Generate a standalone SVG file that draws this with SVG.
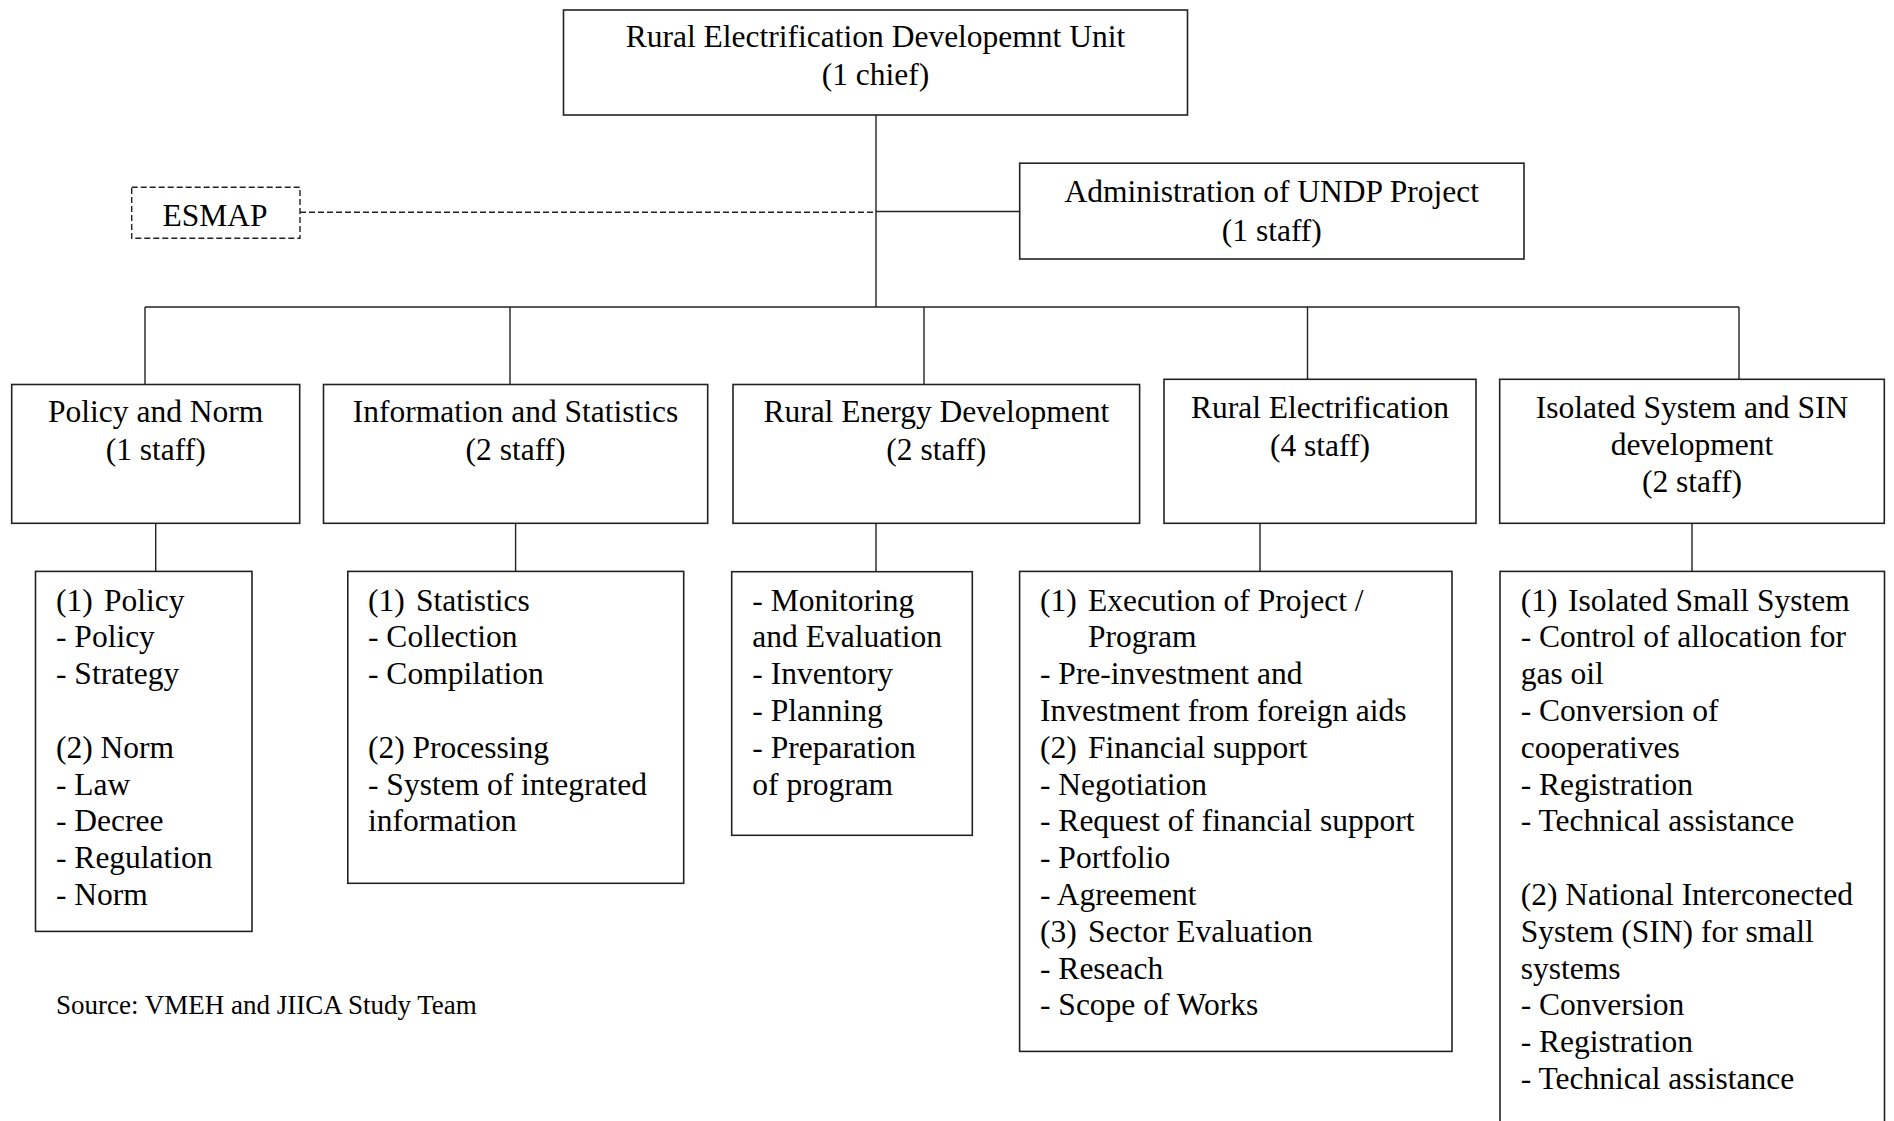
<svg xmlns="http://www.w3.org/2000/svg" width="1894" height="1121" viewBox="0 0 1894 1121">
<style>
.box{fill:#fff;stroke:#222;stroke-width:1.6}
.dbox{fill:#fff;stroke:#222;stroke-width:1.4;stroke-dasharray:6 3}
.ln{fill:none;stroke:#222;stroke-width:1.4}
.dln{fill:none;stroke:#222;stroke-width:1.4;stroke-dasharray:6 3}
text{font-family:"Liberation Serif","Times New Roman",serif;font-size:31.5px;fill:#000}
.c{text-anchor:middle}
.src{font-size:27px}
</style>
<rect width="1894" height="1121" fill="#fff"/>
<g id="connectors">
<line class="ln" x1="876" y1="115" x2="876" y2="307"/>
<line class="dln" x1="300" y1="212.3" x2="876" y2="212.3"/>
<line class="ln" x1="876" y1="211.5" x2="1020" y2="211.5"/>
<line class="ln" x1="145" y1="307" x2="1739" y2="307"/>
<line class="ln" x1="145" y1="307" x2="145" y2="384.5"/>
<line class="ln" x1="510" y1="307" x2="510" y2="384.5"/>
<line class="ln" x1="924" y1="307" x2="924" y2="384.5"/>
<line class="ln" x1="1307.5" y1="307" x2="1307.5" y2="379.5"/>
<line class="ln" x1="1739" y1="307" x2="1739" y2="384.5"/>
<line class="ln" x1="155.7" y1="523.3" x2="155.7" y2="571.4"/>
<line class="ln" x1="515.6" y1="523.3" x2="515.6" y2="571.4"/>
<line class="ln" x1="876" y1="523.3" x2="876" y2="571.7"/>
<line class="ln" x1="1260" y1="523.3" x2="1260" y2="571.4"/>
<line class="ln" x1="1692" y1="523.3" x2="1692" y2="571.4"/>
</g>
<g id="unit">
<rect class="box" x="563.5" y="10" width="624" height="105"/>
<text class="c" x="875.5" y="46.7">Rural Electrification Developemnt Unit</text>
<text class="c" x="875.5" y="85">(1 chief)</text>
</g>
<g id="esmap">
<rect class="dbox" x="131.7" y="187.3" width="168.3" height="51"/>
<text class="c" x="215" y="226">ESMAP</text>
</g>
<g id="undp">
<rect class="box" x="1019.7" y="163.2" width="504.3" height="95.8"/>
<text class="c" x="1271.8" y="201.8">Administration of UNDP Project</text>
<text class="c" x="1271.8" y="241">(1 staff)</text>
</g>
<g id="policy">
<rect class="box" x="11.7" y="384.5" width="288" height="138.8"/>
<text class="c" x="155.7" y="421.7">Policy and Norm</text>
<text class="c" x="155.7" y="460">(1 staff)</text>
</g>
<g id="info">
<rect class="box" x="323.5" y="384.5" width="384.2" height="138.8"/>
<text class="c" x="515.6" y="421.7">Information and Statistics</text>
<text class="c" x="515.6" y="460">(2 staff)</text>
</g>
<g id="energy">
<rect class="box" x="733" y="384.5" width="406.6" height="138.8"/>
<text class="c" x="936.3" y="421.7">Rural Energy Development</text>
<text class="c" x="936.3" y="460">(2 staff)</text>
</g>
<g id="electrification">
<rect class="box" x="1164" y="379.3" width="312" height="144"/>
<text class="c" x="1320" y="417.5">Rural Electrification</text>
<text class="c" x="1320" y="456">(4 staff)</text>
</g>
<g id="isolated">
<rect class="box" x="1499.7" y="379.3" width="384.6" height="144"/>
<text class="c" x="1692" y="417.5">Isolated System and SIN</text>
<text class="c" x="1692" y="454.5">development</text>
<text class="c" x="1692" y="491.5">(2 staff)</text>
</g>
<g id="policy-detail">
<rect class="box" x="35.5" y="571.4" width="216.5" height="360"/>
<text><tspan x="56" y="610.5">(1)</tspan><tspan x="104" y="610.5">Policy</tspan><tspan x="56" y="647.3">- Policy</tspan><tspan x="56" y="684.1">- Strategy</tspan><tspan x="56" y="757.7">(2) Norm</tspan><tspan x="56" y="794.5">- Law</tspan><tspan x="56" y="831.3">- Decree</tspan><tspan x="56" y="868.1">- Regulation</tspan><tspan x="56" y="904.9">- Norm</tspan></text>
</g>
<g id="info-detail">
<rect class="box" x="347.8" y="571.4" width="335.9" height="311.9"/>
<text><tspan x="368" y="610.5">(1)</tspan><tspan x="416" y="610.5">Statistics</tspan><tspan x="368" y="647.3">- Collection</tspan><tspan x="368" y="684.1">- Compilation</tspan><tspan x="368" y="757.7">(2) Processing</tspan><tspan x="368" y="794.5">- System of integrated</tspan><tspan x="368" y="831.3">information</tspan></text>
</g>
<g id="energy-detail">
<rect class="box" x="731.7" y="571.7" width="240.6" height="263.6"/>
<text><tspan x="752.3" y="610.5">- Monitoring</tspan><tspan x="752.3" y="647.3">and Evaluation</tspan><tspan x="752.3" y="684.1">- Inventory</tspan><tspan x="752.3" y="720.9">- Planning</tspan><tspan x="752.3" y="757.7">- Preparation</tspan><tspan x="752.3" y="794.5">of program</tspan></text>
</g>
<g id="electrification-detail">
<rect class="box" x="1019.6" y="571.4" width="432.4" height="480"/>
<text><tspan x="1040" y="610.5">(1)</tspan><tspan x="1088" y="610.5">Execution of Project /</tspan><tspan x="1088" y="647.3">Program</tspan><tspan x="1040" y="684.1">- Pre-investment and</tspan><tspan x="1040" y="720.9">Investment from foreign aids</tspan><tspan x="1040" y="757.7">(2)</tspan><tspan x="1088" y="757.7">Financial support</tspan><tspan x="1040" y="794.5">- Negotiation</tspan><tspan x="1040" y="831.3">- Request of financial support</tspan><tspan x="1040" y="868.1">- Portfolio</tspan><tspan x="1040" y="904.9">- Agreement</tspan><tspan x="1040" y="941.7">(3)</tspan><tspan x="1088" y="941.7">Sector Evaluation</tspan><tspan x="1040" y="978.5">- Reseach</tspan><tspan x="1040" y="1015.3">- Scope of Works</tspan></text>
</g>
<g id="isolated-detail">
<rect class="box" x="1500" y="571.4" width="384.5" height="570"/>
<text><tspan x="1520.7" y="610.5">(1)</tspan><tspan x="1568" y="610.5">Isolated Small System</tspan><tspan x="1520.7" y="647.3">- Control of allocation for</tspan><tspan x="1520.7" y="684.1">gas oil</tspan><tspan x="1520.7" y="720.9">- Conversion of</tspan><tspan x="1520.7" y="757.7">cooperatives</tspan><tspan x="1520.7" y="794.5">- Registration</tspan><tspan x="1520.7" y="831.3">- Technical assistance</tspan><tspan x="1520.7" y="904.9">(2) National Interconected</tspan><tspan x="1520.7" y="941.7">System (SIN) for small</tspan><tspan x="1520.7" y="978.5">systems</tspan><tspan x="1520.7" y="1015.3">- Conversion</tspan><tspan x="1520.7" y="1052.1">- Registration</tspan><tspan x="1520.7" y="1088.9">- Technical assistance</tspan></text>
</g>
<text class="src" x="56" y="1013.5">Source: VMEH and JIICA Study Team</text>
</svg>
